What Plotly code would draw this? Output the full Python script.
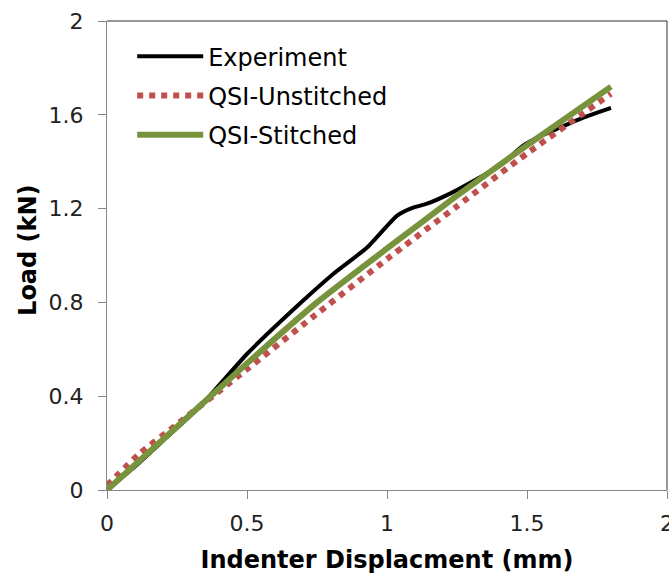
import plotly.graph_objects as go

# Data
exp_x = [0.0, 0.1, 0.2, 0.33, 0.5, 0.69, 0.81, 0.93, 1.036, 1.093, 1.143, 1.225, 1.32, 1.4, 1.486, 1.55, 1.607, 1.69, 1.8]
exp_y = [0.0, 0.1, 0.21, 0.353, 0.58, 0.796, 0.923, 1.035, 1.17, 1.204, 1.221, 1.264, 1.325, 1.38, 1.468, 1.51, 1.54, 1.583, 1.63]

uns_x = [0.0, 0.118, 0.25, 0.5, 0.732, 1.0, 1.25, 1.5, 1.8]
uns_y = [0.02, 0.157, 0.28, 0.515, 0.735, 0.985, 1.21, 1.435, 1.69]

sti_x = [0.0, 0.25, 0.5, 0.75, 1.0, 1.25, 1.5, 1.8]
sti_y = [0.0, 0.27, 0.54, 0.80, 1.03, 1.255, 1.47, 1.72]

names = ["Experiment", "QSI-Unstitched", "QSI-Stitched"]

x_ticks = [0, 0.5, 1, 1.5, 2]
x_tick_labels = ["0", "0.5", "1", "1.5", "2"]
y_ticks = [0, 0.4, 0.8, 1.2, 1.6, 2]
y_tick_labels = ["0", "0.4", "0.8", "1.2", "1.6", "2"]

FONT = "DejaVu Sans, Arial, sans-serif"

fig = go.Figure()
fig.add_trace(go.Scatter(x=exp_x, y=exp_y, mode="lines", name=names[0], legendgroup="a",
                         line=dict(color="#000000", width=4, shape="spline", smoothing=0.5)))
fig.add_trace(go.Scatter(x=uns_x, y=uns_y, mode="lines", name=names[1], legendgroup="b",
                         line=dict(color="#C0504D", width=6, dash="6px,6px", shape="spline", smoothing=0.5)))
fig.add_trace(go.Scatter(x=sti_x, y=sti_y, mode="lines", name=names[2], legendgroup="c",
                         line=dict(color="#77933C", width=6, shape="spline", smoothing=0.5)))

axis_common = dict(showgrid=False, zeroline=False, showline=True, linecolor="#868686", linewidth=1,
                   ticks="outside", ticklen=8, tickcolor="#868686", tickwidth=1, automargin=False,
                   ticklabeloverflow="allow",
                   tickfont=dict(family=FONT, size=22, color="#222222"))

fig.update_xaxes(range=[0, 2], tickvals=x_ticks, ticktext=x_tick_labels, ticklabelstandoff=6,
                 title=dict(text="<b>Indenter Displacment (mm)</b>", font=dict(family=FONT, size=24, color="#000000")),
                 **axis_common)
fig.update_yaxes(range=[0, 2], tickvals=y_ticks, ticktext=y_tick_labels, ticklabelstandoff=10,
                 **axis_common)

# y-axis title placed as rotated text
fig.add_annotation(text="<b>Load (kN)</b>", xref="paper", yref="paper", x=-0.141, y=0.512,
                   xanchor="center", yanchor="middle", textangle=-90, showarrow=False,
                   font=dict(family=FONT, size=24, color="#000000"))

# top and right frame lines
fig.add_shape(type="line", xref="paper", yref="paper", x0=0, x1=1, y0=1, y1=1,
              line=dict(color="#333333", width=1))
fig.add_shape(type="line", xref="paper", yref="paper", x0=1, x1=1, y0=0, y1=1,
              line=dict(color="#333333", width=1))

fig.update_layout(
    width=669, height=577,
    margin=dict(l=107, r=2, t=21, b=87),
    plot_bgcolor="white", paper_bgcolor="white",
    font=dict(family=FONT),
    legend=dict(x=0.045, y=0.972, xanchor="left", yanchor="top", bgcolor="rgba(0,0,0,0)",
                font=dict(family=FONT, size=24, color="#000000"),
                itemwidth=66, tracegroupgap=5, traceorder="grouped"),
    showlegend=True,
)

fig.write_html("out.html", config={"displayModeBar": False},
               post_script="document.body.style.margin='0';document.body.style.overflow='hidden';")
